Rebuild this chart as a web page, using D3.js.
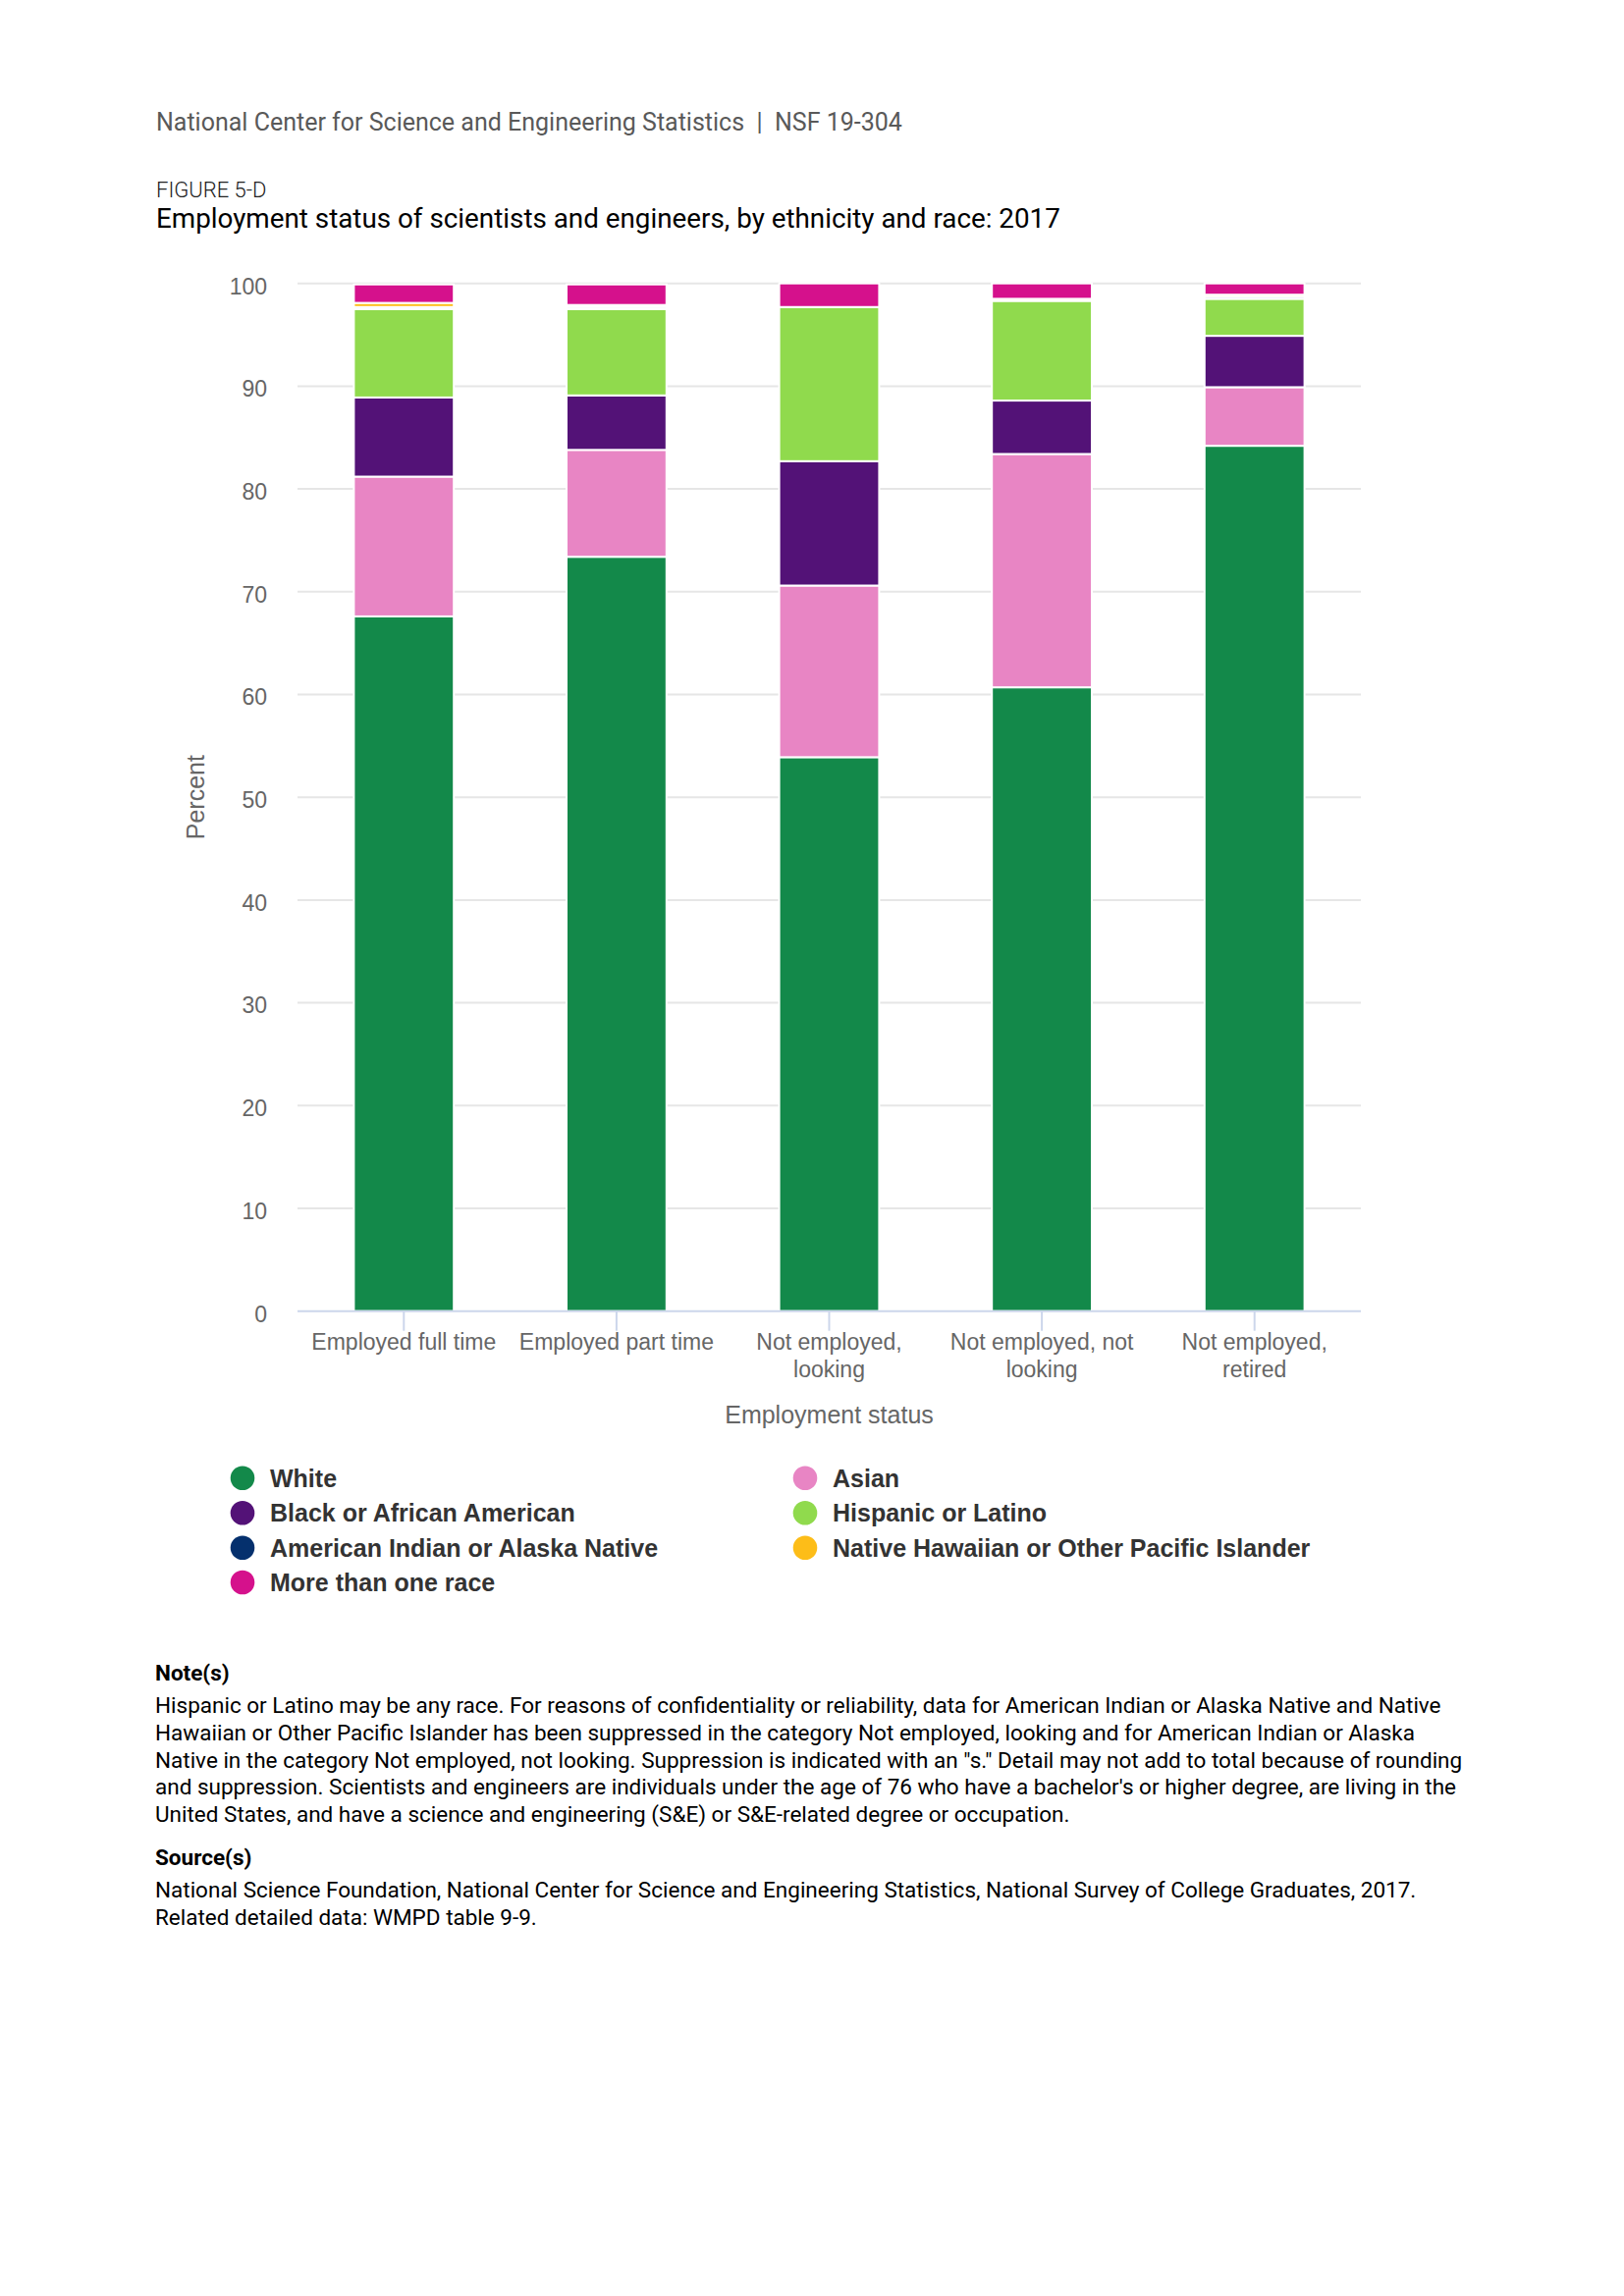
<!DOCTYPE html>
<html>
<head>
<meta charset="utf-8">
<script src="https://cdn.jsdelivr.net/npm/d3@7/dist/d3.min.js"></script>
<style>
  html, body { margin: 0; padding: 0; background: #fff; }
  svg { display: block; }
</style>
</head>
<body>
<svg id="chart" width="1654" height="2339"></svg>
<script>
// ---------- DATA ----------
const categories = ["Employed full time", "Employed part time", "Not employed, looking", "Not employed, not looking", "Not employed, retired"];
const seriesNames = ["White", "Asian", "Black or African American", "Hispanic or Latino", "American Indian or Alaska Native", "Native Hawaiian or Other Pacific Islander", "More than one race"];
const seriesColors = ["#13894a", "#e885c4", "#531277", "#90da4d", "#05306d", "#fdbd18", "#d5118c"];
const white      = [67.6, 73.4, 53.9, 60.7, 84.2];
const asian      = [13.6, 10.4, 16.7, 22.7, 5.7];
const black      = [7.7, 5.3, 12.1, 5.2, 5.0];
const hispanic   = [8.6, 8.4, 15.0, 9.7, 3.6];
const aian       = [0.2, 0.2, null, null, 0.2];
const nhpi       = [0.4, 0.2, null, 0.2, 0.2];
const multi      = [1.8, 2.0, 2.3, 1.5, 1.1];
const yTicks = [0, 10, 20, 30, 40, 50, 60, 70, 80, 90, 100];
const legendOrder = ["White", "Asian", "Black or African American", "Hispanic or Latino", "American Indian or Alaska Native", "Native Hawaiian or Other Pacific Islander", "More than one race"];

const headerText = "National Center for Science and Engineering Statistics  |  NSF 19-304";
const figureLabel = "FIGURE 5-D";
const titleText = "Employment status of scientists and engineers, by ethnicity and race: 2017";
const xTitle = "Employment status";
const yTitle = "Percent";
const noteLines = [
  "Hispanic or Latino may be any race. For reasons of confidentiality or reliability, data for American Indian or Alaska Native and Native",
  "Hawaiian or Other Pacific Islander has been suppressed in the category Not employed, looking and for American Indian or Alaska",
  "Native in the category Not employed, not looking. Suppression is indicated with an \"s.\" Detail may not add to total because of rounding",
  "and suppression. Scientists and engineers are individuals under the age of 76 who have a bachelor's or higher degree, are living in the",
  "United States, and have a science and engineering (S&E) or S&E-related degree or occupation."
];
const sourceLines = [
  "National Science Foundation, National Center for Science and Engineering Statistics, National Survey of College Graduates, 2017.",
  "Related detailed data: WMPD table 9-9."
];

// ---------- BUILD TABLE ----------
const seriesValues = [white, asian, black, hispanic, aian, nhpi, multi];
const table = categories.map((c, i) => {
  const row = { category: c };
  seriesNames.forEach((s, j) => { row[s] = seriesValues[j][i] == null ? 0 : seriesValues[j][i]; });
  return row;
});
const color = d3.scaleOrdinal().domain(seriesNames).range(seriesColors);

// ---------- LAYOUT ----------
const svg = d3.select("#chart");
const chartFont = "'Liberation Sans', Arial, sans-serif";
const textFont = "Roboto, 'Noto Sans', sans-serif";
const plot = { left: 303, right: 1386, top: 288.7, bottom: 1335.7 };

svg.append("rect").attr("width", 1654).attr("height", 2339).attr("fill", "#fff");

// header texts
svg.append("text").attr("x", 159).attr("y", 133).attr("font-family", textFont)
  .attr("font-size", 25).attr("fill", "#595959").attr("xml:space", "preserve").text(headerText);
svg.append("text").attr("x", 159).attr("y", 201).attr("font-family", textFont)
  .attr("font-size", 22).attr("font-weight", 300).attr("fill", "#222").text(figureLabel);
svg.append("text").attr("x", 159).attr("y", 232).attr("font-family", textFont)
  .attr("font-size", 27.8).attr("fill", "#000").text(titleText);

// scales
const x = d3.scaleBand().domain(categories).range([plot.left, plot.right])
  .paddingInner(0.53).paddingOuter(0.265);
const y = d3.scaleLinear().domain([0, 100]).range([plot.bottom, plot.top]);

// gridlines
svg.append("g").selectAll("line").data(yTicks.filter(d => d !== 0)).join("line")
  .attr("x1", plot.left).attr("x2", plot.right)
  .attr("y1", d => y(d)).attr("y2", d => y(d))
  .attr("stroke", "#e6e6e6").attr("stroke-width", 2);

// y axis labels
const yAxis = d3.axisLeft(y).tickValues(yTicks).tickSize(0).tickPadding(0);
const gy = svg.append("g").attr("transform", `translate(272,0)`).call(yAxis);
gy.select(".domain").remove();
gy.selectAll("text").attr("font-family", chartFont).attr("font-size", 23)
  .attr("fill", "#666").attr("dy", "0.45em");

// y title
svg.append("text").attr("transform", `translate(208,${(plot.top + plot.bottom) / 2}) rotate(-90)`)
  .attr("text-anchor", "middle").attr("font-family", chartFont).attr("font-size", 25)
  .attr("fill", "#666").text(yTitle);

// bars
const stack = d3.stack().keys(seriesNames);
const stacked = stack(table);
svg.append("g").selectAll("g").data(stacked).join("g")
  .attr("fill", d => color(d.key))
  .selectAll("rect").data(d => d.filter(p => p[1] - p[0] > 0)).join("rect")
  .attr("x", d => x(d.data.category))
  .attr("width", x.bandwidth())
  .attr("y", d => y(d[1]))
  .attr("height", d => y(d[0]) - y(d[1]))
  .attr("stroke", "#fff").attr("stroke-width", 2);

// x axis
const xAxis = d3.axisBottom(x).tickSize(20).tickPadding(8);
const gx = svg.append("g").attr("transform", `translate(0,${plot.bottom})`).call(xAxis);
gx.select(".domain").attr("stroke", "#ccd6eb").attr("stroke-width", 2)
  .attr("d", `M${plot.left},0H${plot.right}`);
gx.selectAll(".tick line").attr("stroke", "#ccd6eb").attr("stroke-width", 2);
gx.selectAll("text").attr("font-family", chartFont).attr("font-size", 23).attr("fill", "#666")
  .each(function (d) {
    const t = d3.select(this);
    const words = d.split(" ");
    t.text(null);
    const maxW = 205;
    let line = [], lines = [];
    const tmp = t.append("tspan");
    words.forEach(w => {
      line.push(w);
      tmp.text(line.join(" "));
      if (tmp.node().getComputedTextLength() > maxW && line.length > 1) {
        line.pop(); lines.push(line.join(" ")); line = [w];
      }
    });
    lines.push(line.join(" "));
    tmp.remove();
    lines.forEach((l, i) => {
      t.append("tspan").attr("x", 0).attr("y", 39 + i * 28.5).text(l);
    });
  });
gx.selectAll("text").attr("dy", null);

// x title
svg.append("text").attr("x", (plot.left + plot.right) / 2).attr("y", 1450)
  .attr("text-anchor", "middle").attr("font-family", chartFont).attr("font-size", 25)
  .attr("fill", "#666").text(xTitle);

// legend
const legendCols = [247, 820];
const legendRows = [1505.7, 1541.2, 1576.7, 1612];
const lg = svg.append("g").selectAll("g").data(legendOrder).join("g")
  .attr("transform", (d, i) => `translate(${legendCols[i % 2]},${legendRows[Math.floor(i / 2)]})`);
lg.append("circle").attr("r", 12.3).attr("fill", d => color(d));
lg.append("text").attr("x", 28).attr("dy", "0.36em").attr("font-family", chartFont)
  .attr("font-size", 25).attr("font-weight", "bold").attr("fill", "#333").text(d => d);

// notes
svg.append("text").attr("x", 158).attr("y", 1712).attr("font-family", textFont)
  .attr("font-size", 22.5).attr("font-weight", "bold").attr("fill", "#000").text("Note(s)");
svg.append("g").selectAll("text").data(noteLines).join("text")
  .attr("x", 158).attr("y", (d, i) => 1745 + i * 27.8)
  .attr("font-family", textFont).attr("font-size", 22.5).attr("fill", "#000").text(d => d);
svg.append("text").attr("x", 158).attr("y", 1900).attr("font-family", textFont)
  .attr("font-size", 22.5).attr("font-weight", "bold").attr("fill", "#000").text("Source(s)");
svg.append("g").selectAll("text").data(sourceLines).join("text")
  .attr("x", 158).attr("y", (d, i) => 1933 + i * 27.8)
  .attr("font-family", textFont).attr("font-size", 22.5).attr("fill", "#000").text(d => d);
</script>
</body>
</html>
